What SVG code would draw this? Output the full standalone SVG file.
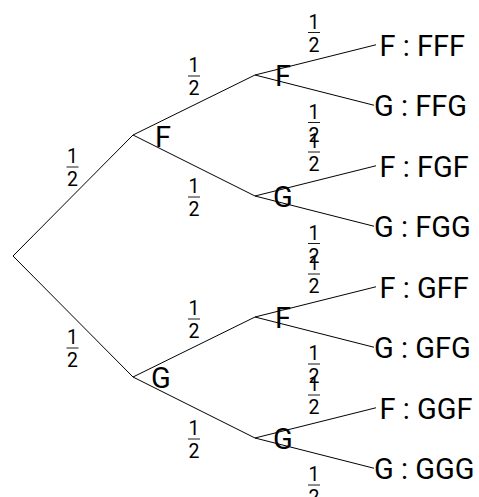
<svg xmlns="http://www.w3.org/2000/svg" width="479" height="497" viewBox="0 0 479 497">
<style>
.e{stroke:#000;stroke-width:1;fill:none}
.lbl{font-family:Roboto,"Liberation Sans",sans-serif;font-size:29px;fill:#000}
.num{font-family:Roboto,"Liberation Sans",sans-serif;font-size:19.5px;fill:#000;text-anchor:middle}
.bar{stroke:#000;stroke-width:0.9}
</style>
<rect width="479" height="497" fill="#fff"/>
<g id="connectors">
<path class="e" d="M13,256 L133,135"/>
<path class="e" d="M13,256 L133,377"/>
<path class="e" d="M133,135 L255,75"/>
<path class="e" d="M133,135 L255,196"/>
<path class="e" d="M133,377 L255,317"/>
<path class="e" d="M133,377 L255,438"/>
<path class="e" d="M255,75 L376,44.75"/>
<path class="e" d="M255,75 L374,105.25"/>
<path class="e" d="M255,196 L376,165.75"/>
<path class="e" d="M255,196 L374,226.25"/>
<path class="e" d="M255,317 L376,286.75"/>
<path class="e" d="M255,317 L374,347.25"/>
<path class="e" d="M255,438 L376,407.75"/>
<path class="e" d="M255,438 L374,468.25"/>
</g>
<g id="edge-labels">
<g transform="translate(72.5,167)"><text class="num" x="0" y="-4">1</text><line class="bar" x1="-6" y1="0" x2="6" y2="0"/><text class="num" x="0" y="19">2</text></g>
<g transform="translate(72.5,348)"><text class="num" x="0" y="-4">1</text><line class="bar" x1="-6" y1="0" x2="6" y2="0"/><text class="num" x="0" y="19">2</text></g>
<g transform="translate(194,76)"><text class="num" x="0" y="-4">1</text><line class="bar" x1="-6" y1="0" x2="6" y2="0"/><text class="num" x="0" y="19">2</text></g>
<g transform="translate(194,197)"><text class="num" x="0" y="-4">1</text><line class="bar" x1="-6" y1="0" x2="6" y2="0"/><text class="num" x="0" y="19">2</text></g>
<g transform="translate(194,319)"><text class="num" x="0" y="-4">1</text><line class="bar" x1="-6" y1="0" x2="6" y2="0"/><text class="num" x="0" y="19">2</text></g>
<g transform="translate(194,439)"><text class="num" x="0" y="-4">1</text><line class="bar" x1="-6" y1="0" x2="6" y2="0"/><text class="num" x="0" y="19">2</text></g>
<g transform="translate(314,32.5)"><text class="num" x="0" y="-4">1</text><line class="bar" x1="-6" y1="0" x2="6" y2="0"/><text class="num" x="0" y="19">2</text></g>
<g transform="translate(314,122.5)"><text class="num" x="0" y="-4">1</text><line class="bar" x1="-6" y1="0" x2="6" y2="0"/><text class="num" x="0" y="19">2</text></g>
<g transform="translate(314,152)"><text class="num" x="0" y="-4">1</text><line class="bar" x1="-6" y1="0" x2="6" y2="0"/><text class="num" x="0" y="19">2</text></g>
<g transform="translate(314,243.5)"><text class="num" x="0" y="-4">1</text><line class="bar" x1="-6" y1="0" x2="6" y2="0"/><text class="num" x="0" y="19">2</text></g>
<g transform="translate(314,274)"><text class="num" x="0" y="-4">1</text><line class="bar" x1="-6" y1="0" x2="6" y2="0"/><text class="num" x="0" y="19">2</text></g>
<g transform="translate(314,364)"><text class="num" x="0" y="-4">1</text><line class="bar" x1="-6" y1="0" x2="6" y2="0"/><text class="num" x="0" y="19">2</text></g>
<g transform="translate(314,395)"><text class="num" x="0" y="-4">1</text><line class="bar" x1="-6" y1="0" x2="6" y2="0"/><text class="num" x="0" y="19">2</text></g>
<g transform="translate(314,485)"><text class="num" x="0" y="-4">1</text><line class="bar" x1="-6" y1="0" x2="6" y2="0"/><text class="num" x="0" y="19">2</text></g>
</g>
<g id="n-F"><text class="lbl" x="155" y="146.5">F</text></g>
<g id="n-G"><text class="lbl" x="151" y="388">G</text></g>
<g id="n-FF"><text class="lbl" x="275" y="85.5">F</text></g>
<g id="n-FG"><text class="lbl" x="273" y="206.5">G</text></g>
<g id="n-GF"><text class="lbl" x="275" y="327.5">F</text></g>
<g id="n-GG"><text class="lbl" x="273" y="448.5">G</text></g>
<g id="n-FFF"><text class="lbl" x="379.5" y="55.5">F : FFF</text></g>
<g id="n-FFG"><text class="lbl" x="374" y="116">G : FFG</text></g>
<g id="n-FGF"><text class="lbl" x="379.5" y="176.5">F : FGF</text></g>
<g id="n-FGG"><text class="lbl" x="374" y="237">G : FGG</text></g>
<g id="n-GFF"><text class="lbl" x="379.5" y="297.5">F : GFF</text></g>
<g id="n-GFG"><text class="lbl" x="374" y="358">G : GFG</text></g>
<g id="n-GGF"><text class="lbl" x="379.5" y="418.5">F : GGF</text></g>
<g id="n-GGG"><text class="lbl" x="374" y="479">G : GGG</text></g>
</svg>
